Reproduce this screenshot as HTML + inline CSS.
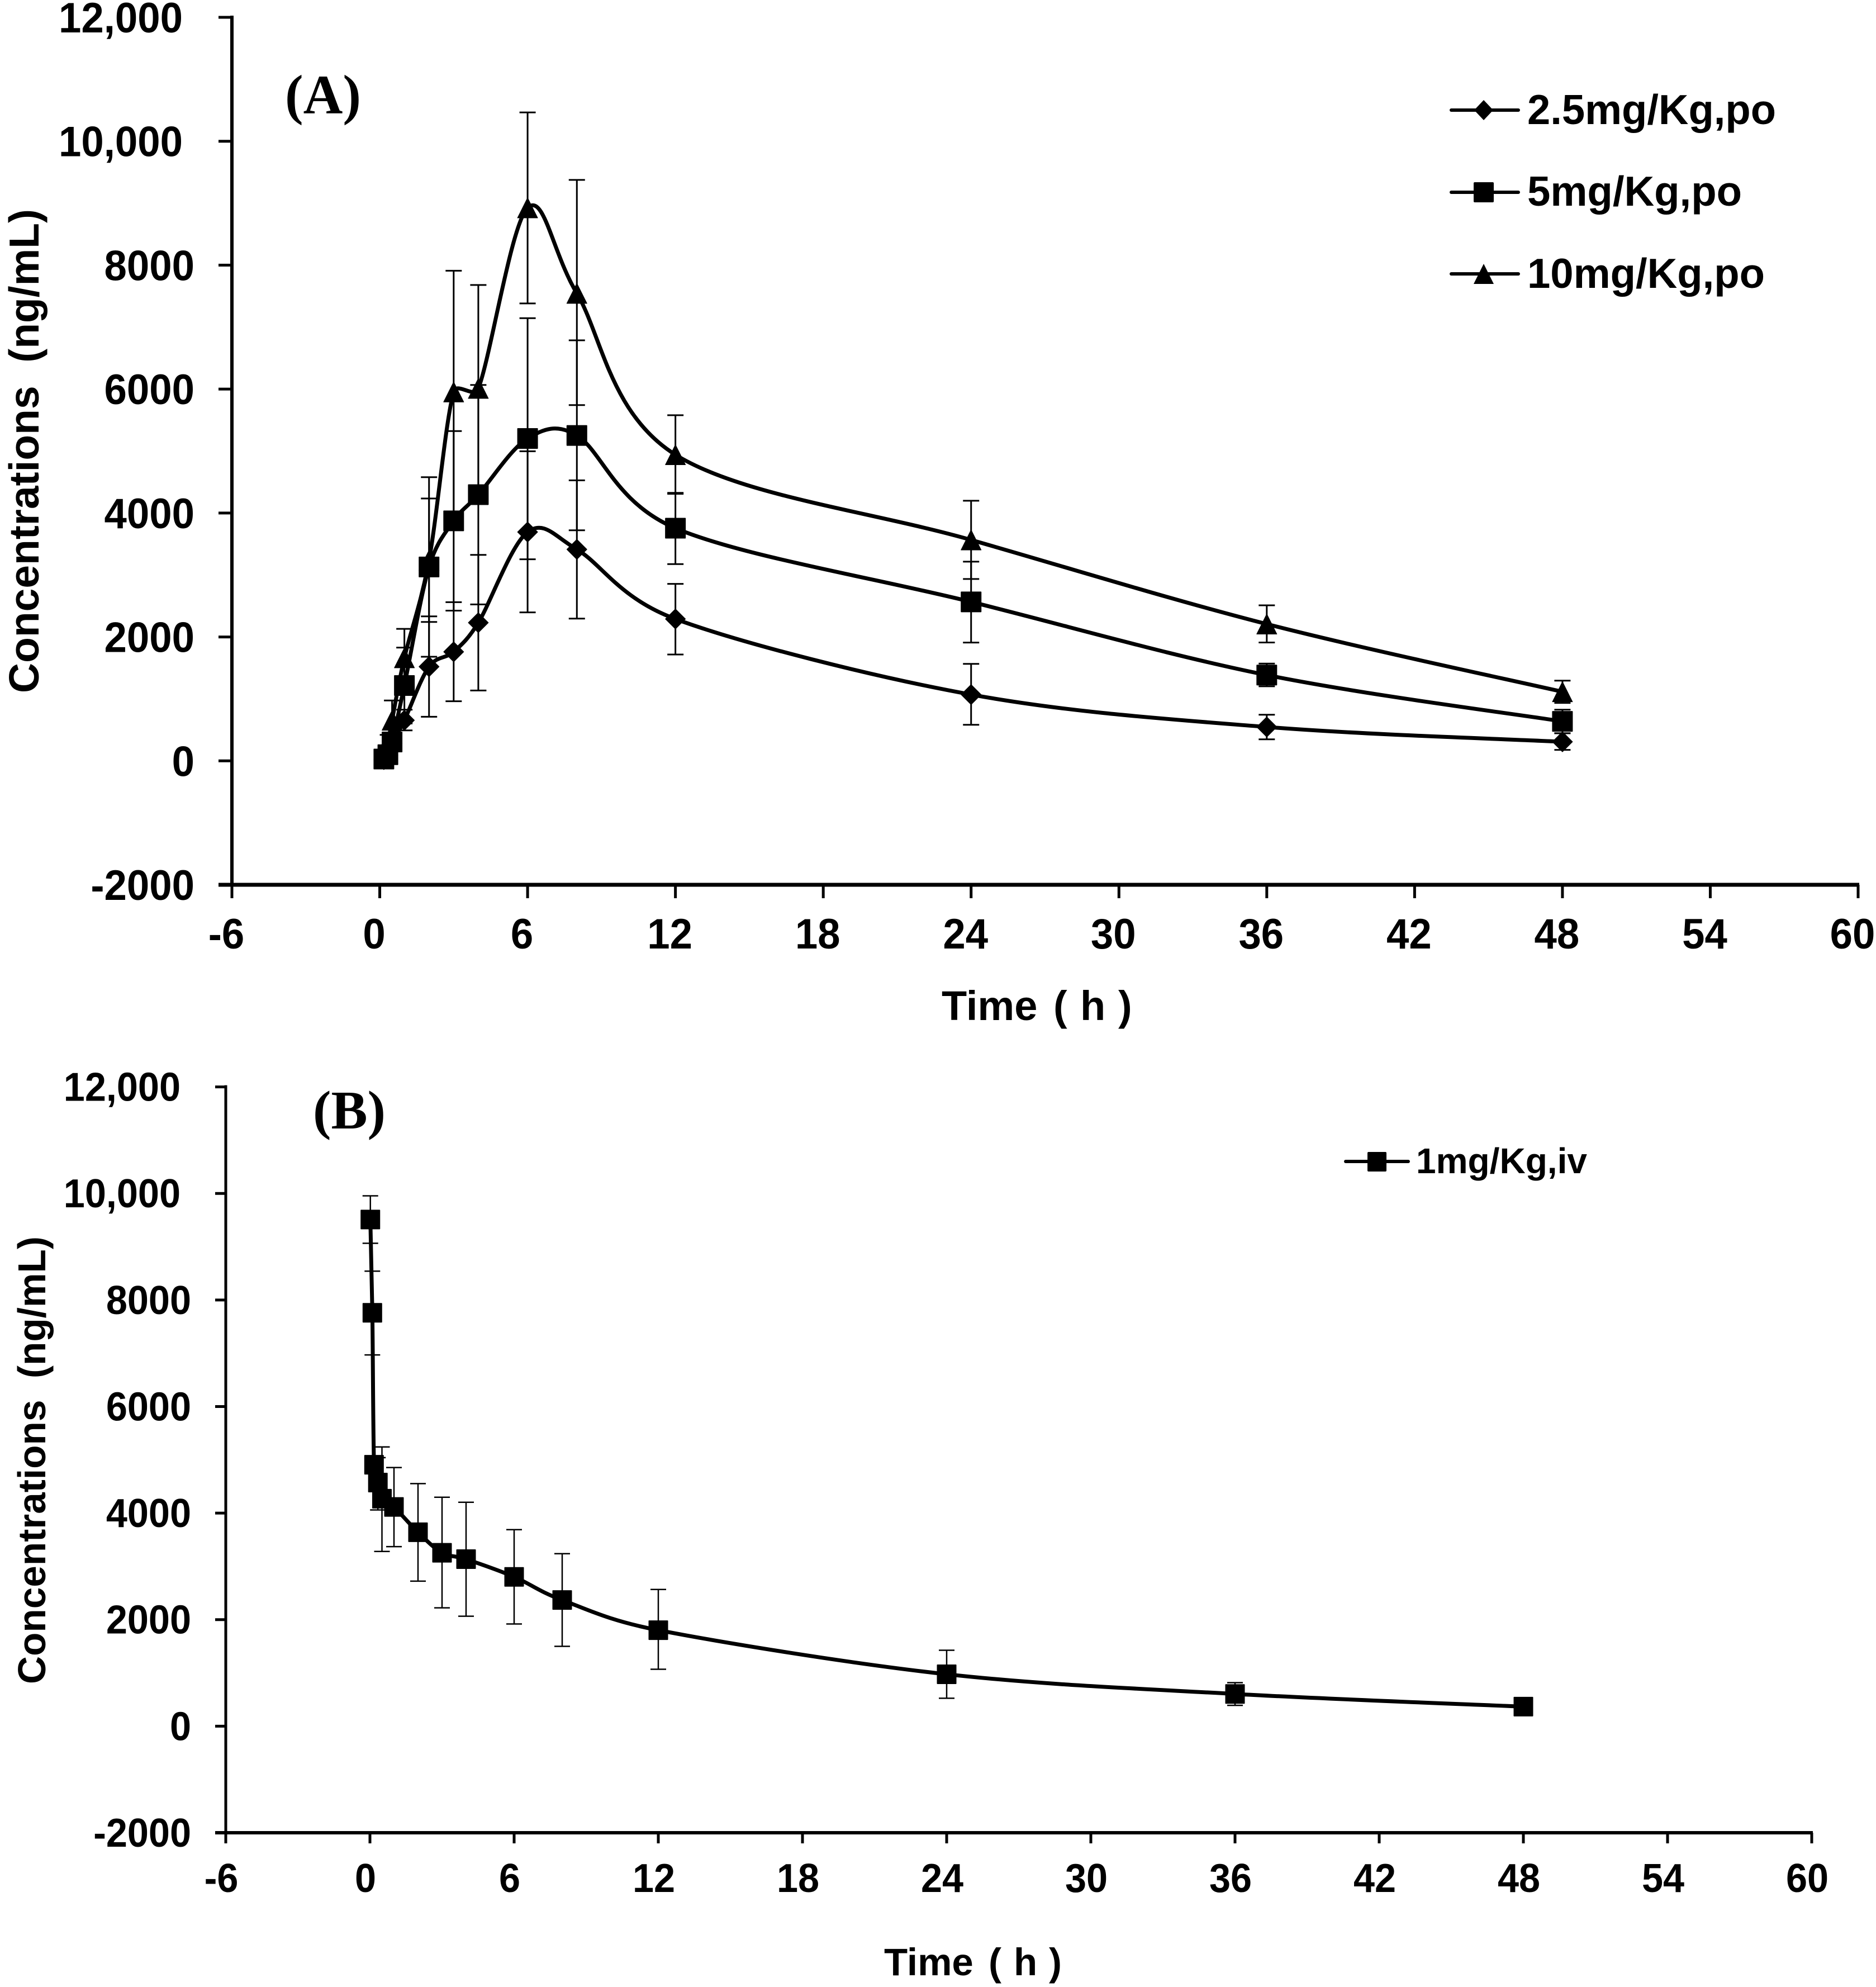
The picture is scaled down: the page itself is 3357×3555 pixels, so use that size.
<!DOCTYPE html>
<html lang="en">
<head>
<meta charset="utf-8">
<title>Concentration-time profiles</title>
<style>
html,body{margin:0;padding:0;background:#fff;}
svg{display:block;}
text{font-family:"Liberation Sans",Arial,sans-serif;font-weight:bold;fill:#000;white-space:pre;}
.panel-tag{font-family:"Liberation Serif","Times New Roman",serif;font-weight:bold;}
</style>
</head>
<body>
<svg id="figure" xmlns="http://www.w3.org/2000/svg" width="3357" height="3555" viewBox="0 0 3357 3555">
  <rect x="0" y="0" width="3357" height="3555" fill="#ffffff"/>

  <g id="panelA"></g>
  <g id="panelB"></g>

  <text class="panel-tag" x="510" y="203" font-size="100" textLength="136" lengthAdjust="spacingAndGlyphs">(A)</text>
  <text class="panel-tag" x="560" y="2019" font-size="98" textLength="130" lengthAdjust="spacingAndGlyphs">(B)</text>

  <text transform="translate(69 1240) rotate(-90)" font-size="75" textLength="866" lengthAdjust="spacingAndGlyphs">Concentrations  (ng/mL)</text>
  <text y="1825" font-size="74"><tspan x="1685">Time </tspan><tspan x="1885">( </tspan><tspan x="1933">h </tspan><tspan x="2001">)</tspan></text>

  <text transform="translate(81 3013) rotate(-90)" font-size="70" textLength="801" lengthAdjust="spacingAndGlyphs">Concentrations  (ng/mL)</text>
  <text y="3534" font-size="69"><tspan x="1582">Time </tspan><tspan x="1769">( </tspan><tspan x="1814">h </tspan><tspan x="1877">)</tspan></text>

  <g>
    <g>
      <line x1="2597" y1="197" x2="2717" y2="197" stroke="#000" stroke-width="6" stroke-linecap="round"/>
      <path d="M2655 179 L2672 197 L2655 215 L2638 197 Z" fill="#000"/>
      <text x="2733" y="222" font-size="75" textLength="445" lengthAdjust="spacingAndGlyphs">2.5mg/Kg,po</text>
    </g>
    <g>
      <line x1="2597" y1="344" x2="2717" y2="344" stroke="#000" stroke-width="6" stroke-linecap="round"/>
      <rect x="2637" y="326" width="36" height="36" rx="2" fill="#000"/>
      <text x="2733" y="368" font-size="75" textLength="384" lengthAdjust="spacingAndGlyphs">5mg/Kg,po</text>
    </g>
    <g>
      <line x1="2597" y1="490" x2="2717" y2="490" stroke="#000" stroke-width="6" stroke-linecap="round"/>
      <path d="M2655 472 L2673 508 L2637 508 Z" fill="#000"/>
      <text x="2733" y="515" font-size="75" textLength="425" lengthAdjust="spacingAndGlyphs">10mg/Kg,po</text>
    </g>
  </g>

  <g>
    <g>
      <line x1="2408" y1="2078" x2="2520" y2="2078" stroke="#000" stroke-width="6" stroke-linecap="round"/>
      <rect x="2447" y="2061" width="34" height="35" rx="2" fill="#000"/>
      <text x="2534" y="2099" font-size="64" textLength="306" lengthAdjust="spacingAndGlyphs">1mg/Kg,iv</text>
    </g>
  </g>
</svg>

<script>
// Shared axis tick values
var xTickValues = [-6, 0, 6, 12, 18, 24, 30, 36, 42, 48, 54, 60];
var xTickLabels = ['-6', '0', '6', '12', '18', '24', '30', '36', '42', '48', '54', '60'];
var yTickValues = [-2000, 0, 2000, 4000, 6000, 8000, 10000, 12000];
var yTickLabels = ['-2000', '0', '2000', '4000', '6000', '8000', '10,000', '12,000'];

// Panel A: oral dosing
var timesPO = [0.167, 0.33, 0.5, 1, 2, 3, 4, 6, 8, 12, 24, 36, 48];

var po25Mean  = [20, 90, 280, 655, 1520, 1760, 2230, 3693, 3413, 2290, 1070, 547, 308];
var po25Upper = [35, 125, 370, 826, 2332, 2561, 3324, 4997, 4527, 2856, 1565, 745, 446];
var po25Lower = [5, 55, 190, 492, 712, 962, 1136, 2396, 2296, 1716, 582, 348, 177];

var po5Mean  = [30, 100, 305, 1216, 3129, 3874, 4296, 5203, 5252, 3755, 2566, 1385, 637];
var po5Upper = [50, 150, 410, 1828, 4578, 5323, 6067, 7145, 6787, 4326, 3215, 1570, 826];
var po5Lower = [10, 66, 214, 604, 1680, 2425, 2525, 3253, 3721, 3176, 1909, 1203, 446];

var po10Mean  = [100, 300, 655, 1663, 3238, 5954, 6011, 8925, 7545, 4941, 3566, 2208, 1115];
var po10Upper = [150, 420, 974, 2130, 4234, 7910, 7680, 10465, 9376, 5578, 4198, 2510, 1295];
var po10Lower = [50, 180, 336, 1196, 2242, 3998, 4342, 7383, 5742, 4310, 2935, 1910, 935];

// Panel B: intravenous dosing
var timesIV = [0.017, 0.1, 0.17, 0.33, 0.5, 1, 2, 3, 4, 6, 8, 12, 24, 36, 48];

var iv1Mean  = [9510, 7760, 4907, 4573, 4270, 4115, 3640, 3255, 3135, 2803, 2368, 1802, 975, 605, 367];
var iv1Upper = [9955, 8541, 5000, 5041, 5242, 4855, 4553, 4297, 4203, 3689, 3238, 2567, 1425, 817, 447];
var iv1Lower = [9065, 6969, 4810, 4059, 3280, 3371, 2722, 2222, 2064, 1918, 1499, 1069, 524, 391, 287];

var NS = 'http://www.w3.org/2000/svg';

function make(parent, tag, attrs) {
  var el = document.createElementNS(NS, tag);
  for (var k in attrs) { el.setAttribute(k, attrs[k]); }
  parent.appendChild(el);
  return el;
}

function smoothPath(pts) {
  var d = 'M' + pts[0][0].toFixed(2) + ' ' + pts[0][1].toFixed(2);
  function dist(a, b) { return Math.hypot(a[0] - b[0], a[1] - b[1]) || 0.001; }
  for (var i = 0; i < pts.length - 1; i++) {
    var p0 = pts[Math.max(i - 1, 0)], p1 = pts[i], p2 = pts[i + 1], p3 = pts[Math.min(i + 2, pts.length - 1)];
    var d1 = dist(p0, p1), d2 = dist(p1, p2), d3 = dist(p2, p3);
    var f1 = Math.min(0.5 * d2 / (d1 + d2), 1 / 6), f2 = Math.min(0.5 * d2 / (d2 + d3), 1 / 6);
    var c1x = p1[0] + (p2[0] - p0[0]) * f1, c1y = p1[1] + (p2[1] - p0[1]) * f1;
    var c2x = p2[0] - (p3[0] - p1[0]) * f2, c2y = p2[1] - (p3[1] - p1[1]) * f2;
    d += ' C' + c1x.toFixed(2) + ' ' + c1y.toFixed(2) + ' ' + c2x.toFixed(2) + ' ' + c2y.toFixed(2) + ' ' + p2[0].toFixed(2) + ' ' + p2[1].toFixed(2);
  }
  return d;
}

function drawMarker(g, kind, cx, cy, r) {
  var el;
  if (kind === 'square') {
    el = make(g, 'rect', {x: cx - r + 1, y: cy - r + 1, width: 2 * r - 2, height: 2 * r - 2, fill: '#000', stroke: '#000', 'stroke-width': 2, 'stroke-linejoin': 'round'});
  } else if (kind === 'diamond') {
    el = make(g, 'path', {d: 'M' + cx + ' ' + (cy - r) + 'L' + (cx + r) + ' ' + cy + 'L' + cx + ' ' + (cy + r) + 'L' + (cx - r) + ' ' + cy + 'Z', fill: '#000', stroke: '#000', 'stroke-width': 1, 'stroke-linejoin': 'round'});
  } else {
    el = make(g, 'path', {d: 'M' + cx + ' ' + (cy - r) + 'L' + (cx + r) + ' ' + (cy + r) + 'L' + (cx - r) + ' ' + (cy + r) + 'Z', fill: '#000', stroke: '#000', 'stroke-width': 1, 'stroke-linejoin': 'round'});
  }
  return el;
}

function drawPanel(root, cfg) {
  function xScale(v) { return cfg.xLeft + (v + 6) / 66 * (cfg.xRight - cfg.xLeft); }
  function yScale(v) { return cfg.yBottom - (v + 2000) / 14000 * (cfg.yBottom - cfg.yTop); }

  var axes = make(root, 'g', {});
  
  

  var yAxis = make(axes, 'line', {x1: cfg.xLeft, y1: yScale(12000) - 3, x2: cfg.xLeft, y2: cfg.yBottom, stroke: '#000', 'stroke-width': cfg.yAxisWidth});
  
  

  var xAxis = make(axes, 'line', {x1: cfg.xLeft - cfg.tickLen, y1: cfg.yBottom, x2: cfg.xRight + 2, y2: cfg.yBottom, stroke: '#000', 'stroke-width': cfg.xAxisWidth});
  
  

  yTickValues.forEach(function (v, i) {
    var y = yScale(v);
    var tick = make(axes, 'line', {x1: cfg.xLeft - cfg.tickLen, y1: y, x2: cfg.xLeft, y2: y, stroke: '#000', 'stroke-width': cfg.tickWidth});
    
    
    var label = yTickLabels[i];
    var right = label.indexOf(',') >= 0 ? cfg.yLabelRightComma : cfg.yLabelRight;
    var t = make(axes, 'text', {transform: 'translate(' + right + ' ' + (y + cfg.yLabelDy) + ') scale(' + cfg.labelScaleX + ' 1)', 'font-size': cfg.fontSize, 'text-anchor': 'end'});
    t.textContent = label;
    
    
  });

  xTickValues.forEach(function (v, i) {
    var x = xScale(v);
    var tick = make(axes, 'line', {x1: x, y1: cfg.yBottom, x2: x, y2: cfg.yBottom + cfg.tickLen, stroke: '#000', 'stroke-width': cfg.tickWidth});
    
    
    var t = make(axes, 'text', {transform: 'translate(' + (x + cfg.xLabelDx) + ' ' + cfg.xLabelY + ') scale(' + cfg.labelScaleX + ' 1)', 'font-size': cfg.fontSize, 'text-anchor': 'middle'});
    t.textContent = xTickLabels[i];
    
    
  });

  cfg.series.forEach(function (s) {
    var g = make(root, 'g', {});
    
    

    s.times.forEach(function (t, i) {
      var x = xScale(t);
      var yu = yScale(s.upper[i]), yl = yScale(s.lower[i]);
      var w = cfg.capWidth / 2;
      var bar = make(g, 'path', {d: 'M' + x + ' ' + yu + 'V' + yl + 'M' + (x - w) + ' ' + yu + 'H' + (x + w) + 'M' + (x - w) + ' ' + yl + 'H' + (x + w), fill: 'none', stroke: '#000', 'stroke-width': cfg.errWidth});
      
      
    });

    var pts = s.times.map(function (t, i) { return [xScale(t), yScale(s.mean[i])]; });
    var line = make(g, 'path', {d: smoothPath(pts), fill: 'none', stroke: '#000', 'stroke-width': cfg.lineWidth, 'stroke-linejoin': 'round'});
    
    

    pts.forEach(function (p) {
      var r = s.marker === 'square' ? cfg.markerR + 0.5 : cfg.markerR;
      var m = drawMarker(g, s.marker, p[0], p[1], r);
      
      
    });
  });
}

drawPanel(document.getElementById('panelA'), {
  xLeft: 415, xRight: 3325, yTop: 31, yBottom: 1583,
  tickLen: 24, tickWidth: 5, yAxisWidth: 6, xAxisWidth: 7,
  fontSize: 76, labelScaleX: 0.955, yLabelRight: 348, yLabelRightComma: 327, yLabelDy: 27,
  xLabelDx: -10, xLabelY: 1697,
  capWidth: 29, errWidth: 3, lineWidth: 7, markerR: 18,
  series: [
    {name: 'series-2-5mg-po', marker: 'diamond', times: timesPO, mean: po25Mean, upper: po25Upper, lower: po25Lower},
    {name: 'series-5mg-po', marker: 'square', times: timesPO, mean: po5Mean, upper: po5Upper, lower: po5Lower},
    {name: 'series-10mg-po', marker: 'triangle', times: timesPO, mean: po10Mean, upper: po10Upper, lower: po10Lower}
  ]
});

drawPanel(document.getElementById('panelB'), {
  xLeft: 404, xRight: 3242, yTop: 1944.6, yBottom: 3279,
  tickLen: 19, tickWidth: 5, yAxisWidth: 5, xAxisWidth: 6,
  fontSize: 72, labelScaleX: 0.95, yLabelRight: 342, yLabelRightComma: 323, yLabelDy: 25,
  xLabelDx: -8, xLabelY: 3385,
  capWidth: 28, errWidth: 2.5, lineWidth: 7, markerR: 17,
  series: [
    {name: 'series-1mg-iv', marker: 'square', times: timesIV, mean: iv1Mean, upper: iv1Upper, lower: iv1Lower}
  ]
});
</script>
</body>
</html>
